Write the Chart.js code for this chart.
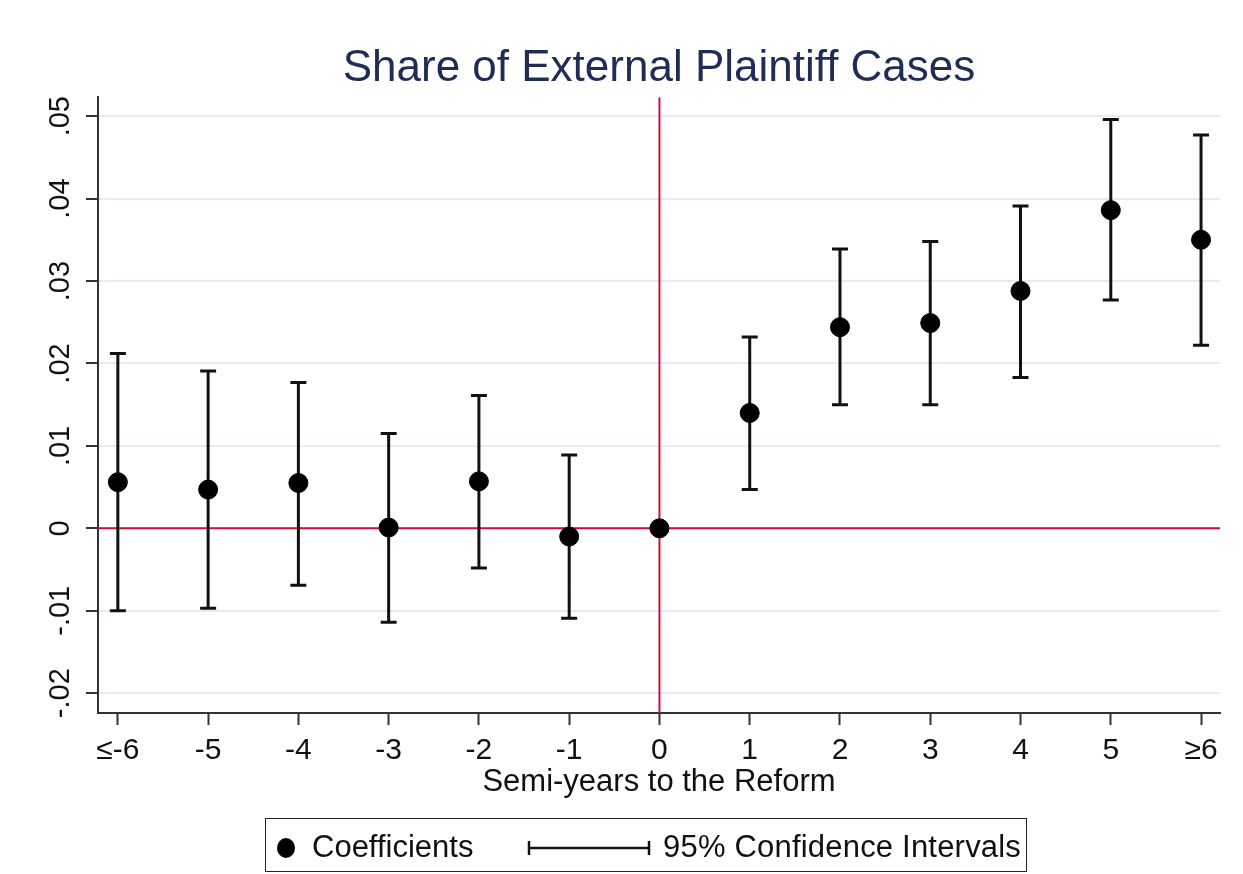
<!DOCTYPE html>
<html>
<head>
<meta charset="utf-8">
<script src="https://cdn.jsdelivr.net/npm/chart.js@4.4.1/dist/chart.umd.min.js"></script>
<style>
  body { margin: 0; background: #fff; }
  #wrap { position: relative; width: 1243px; height: 874px; font-family: "Liberation Sans", Arial, sans-serif; }
  #legend { position: absolute; left: 265px; top: 818px; width: 760px; height: 52px; border: 1.5px solid #222; box-sizing: content-box; }
  #legend span { position: absolute; font-size: 31px; color: #111; top: 10px; line-height: 36px; white-space: nowrap; }
  #legend svg { position: absolute; }
</style>
</head>
<body>
<div id="wrap">
  <canvas id="eventChart" width="1243" height="874"></canvas>
  <div id="legend">
    <svg style="left:10px;top:18px" width="20" height="22"><ellipse cx="10" cy="11" rx="9" ry="10" fill="#000"/></svg>
    <span style="left:46px">Coefficients</span>
    <svg style="left:261px;top:20px" width="124" height="18">
      <line x1="2" y1="9" x2="122" y2="9" stroke="#111" stroke-width="2.5"/>
      <line x1="2" y1="2" x2="2" y2="16" stroke="#111" stroke-width="2.5"/>
      <line x1="122" y1="2" x2="122" y2="16" stroke="#111" stroke-width="2.5"/>
    </svg>
    <span style="left:397px;letter-spacing:0.2px">95% Confidence Intervals</span>
  </div>
</div>
<script>
// semi-years relative to the reform
const xTicks = [-6, -5, -4, -3, -2, -1, 0, 1, 2, 3, 4, 5, 6];
const xLabels = ['≤-6', '-5', '-4', '-3', '-2', '-1', '0', '1', '2', '3', '4', '5', '≥6'];
const coef = [0.0056, 0.0047, 0.0055, 0.0001, 0.0057, -0.0010, 0, 0.0140, 0.0244, 0.0249, 0.0288, 0.0386, 0.0350];
const ciLow = [-0.0100, -0.0097, -0.0069, -0.0114, -0.0048, -0.0109, null, 0.0047, 0.0150, 0.0150, 0.0183, 0.0277, 0.0222];
const ciHigh = [0.0212, 0.0191, 0.0177, 0.0115, 0.0161, 0.0089, null, 0.0232, 0.0339, 0.0348, 0.0391, 0.0496, 0.0477];
const yTicks = [-0.02, -0.01, 0, 0.01, 0.02, 0.03, 0.04, 0.05];
const yLabels = ['-.02', '-.01', '0', '.01', '.02', '.03', '.04', '.05'];

const xMin = -6.22, xMax = 6.21;
const yMin = -0.0224, yMax = 0.0523;
const red = '#c9103a';
const font = "'Liberation Sans', Arial, sans-serif";

// error bars: lo -> hi segments separated by gaps
const ciData = [];
xTicks.forEach((x, i) => {
    if (ciLow[i] === null) return;
    ciData.push({ x: x, y: ciLow[i] });
    ciData.push({ x: x, y: ciHigh[i] });
    ciData.push({ x: x, y: null });
});

const ctx = document.getElementById('eventChart').getContext('2d');
const chart = new Chart(ctx, {
    type: 'scatter',
    data: {
        datasets: [{
            label: 'Coefficients',
            data: xTicks.map((x, i) => ({ x: x, y: coef[i] })),
            backgroundColor: '#000',
            borderColor: '#000',
            pointRadius: 9.5,
            order: 1
        }, {
            label: '95% Confidence Intervals',
            data: ciData,
            showLine: true,
            spanGaps: false,
            borderColor: '#111',
            borderWidth: 3,
            pointStyle: 'line',
            pointRadius: 8,
            pointBorderWidth: 3,
            pointBorderColor: '#111',
            order: 2
        }, {
            data: [{ x: xMin, y: 0 }, { x: xMax, y: 0 }],
            showLine: true,
            borderColor: red,
            borderWidth: 2,
            pointRadius: 0,
            order: 3
        }, {
            data: [{ x: 0, y: yMin }, { x: 0, y: yMax }],
            showLine: true,
            borderColor: red,
            borderWidth: 2,
            pointRadius: 0,
            order: 3
        }]
    },
    options: {
        responsive: false,
        animation: false,
        layout: { padding: { left: 0, right: 23, top: 0, bottom: 61 } },
        plugins: {
            legend: { display: false },
            tooltip: { enabled: false },
            title: {
                display: true,
                fullSize: false,
                text: 'Share of External Plaintiff Cases',
                color: '#1f2d56',
                font: { family: font, size: 44, weight: 'normal', lineHeight: 1.2 },
                padding: { top: 42, bottom: 2.4 }
            }
        },
        scales: {
            x: {
                type: 'linear',
                min: xMin,
                max: xMax,
                afterBuildTicks: (scale) => { scale.ticks = xTicks.map(v => ({ value: v })); },
                afterFit: (scale) => { scale.height = 100; },
                ticks: {
                    callback: (v) => xLabels[xTicks.indexOf(v)],
                    color: '#111',
                    font: { family: font, size: 30 },
                    padding: 8,
                    autoSkip: false,
                    maxRotation: 0,
                    minRotation: 0
                },
                grid: { drawOnChartArea: false, drawTicks: true, tickLength: 12, tickColor: '#333', tickWidth: 2 },
                border: { color: '#333', width: 2 },
                title: {
                    display: true,
                    text: 'Semi-years to the Reform',
                    color: '#111',
                    font: { family: font, size: 31 },
                    padding: { top: 0, bottom: 12 }
                }
            },
            y: {
                min: yMin,
                max: yMax,
                afterBuildTicks: (scale) => { scale.ticks = yTicks.map(v => ({ value: v })); },
                afterFit: (scale) => { scale.width = 98; },
                ticks: {
                    callback: (v) => yLabels[yTicks.indexOf(v)],
                    color: '#111',
                    font: { family: font, size: 29 },
                    minRotation: 90,
                    maxRotation: 90,
                    crossAlign: 'center',
                    padding: 0
                },
                grid: { color: '#e4edef', lineWidth: 2, tickLength: 12, tickColor: '#333', tickWidth: 2 },
                border: { color: '#333', width: 2 }
            }
        }
    }
});
</script>
</body>
</html>
